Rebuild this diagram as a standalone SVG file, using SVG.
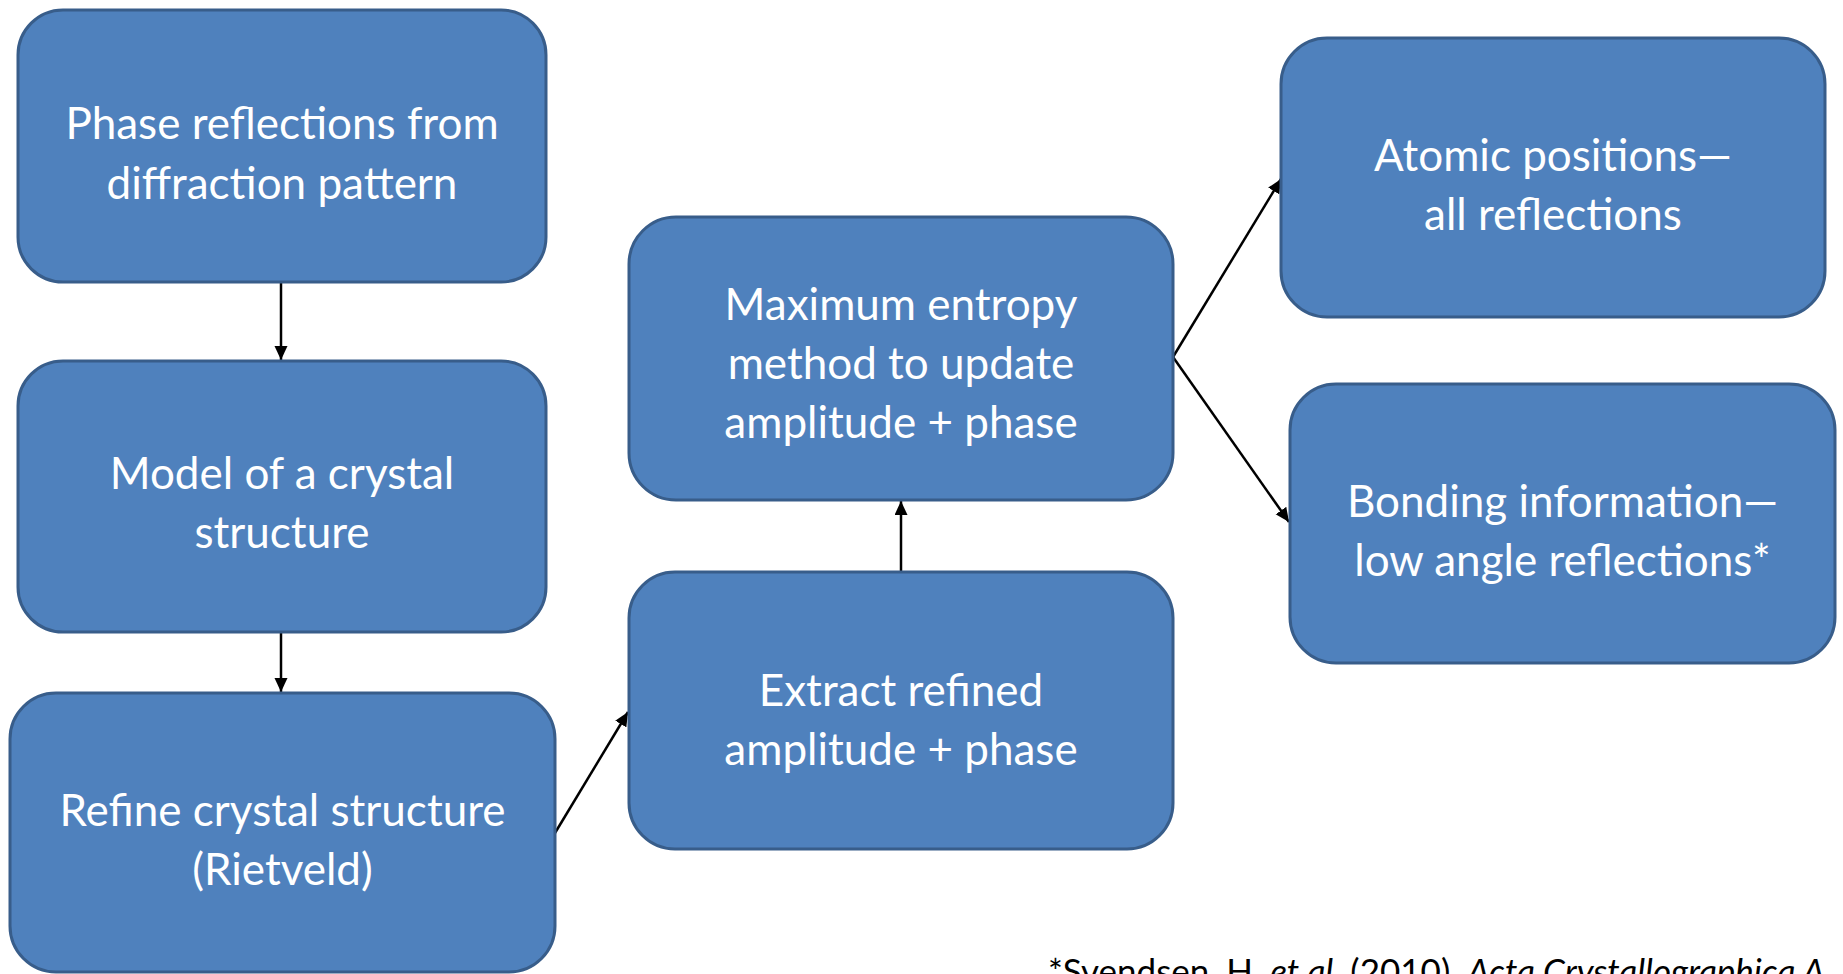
<svg xmlns="http://www.w3.org/2000/svg" width="1843" height="974" viewBox="0 0 1843 974">
<style>
.box{fill:#4F81BD;stroke:#385D8A;stroke-width:3}
.lbl{font-family:Lato,"Open Sans",sans-serif;font-size:44px;fill:#FFFFFF;text-anchor:middle}
.con{stroke:#000000;stroke-width:2.5;fill:none;marker-end:url(#ah)}
.note{font-family:Lato,"Open Sans",sans-serif;font-size:35px;fill:#000000}
</style>
<defs>
<marker id="ah" markerUnits="userSpaceOnUse" markerWidth="15" markerHeight="14" refX="14" refY="6.5" orient="auto">
<path d="M0,0 L14,6.5 L0,13 z" fill="#000000"/>
</marker>
</defs>
<rect width="1843" height="974" fill="#FFFFFF"/>
<g id="connectors">
<line class="con" x1="281" y1="283" x2="281" y2="360"/>
<line class="con" x1="281" y1="633" x2="281" y2="692"/>
<line class="con" x1="555" y1="833" x2="628" y2="712"/>
<line class="con" x1="901" y1="572" x2="901" y2="501"/>
<line class="con" x1="1173" y1="357" x2="1281" y2="179"/>
<line class="con" x1="1173" y1="357" x2="1289" y2="522"/>
</g>
<g id="n1">
<rect class="box" x="18" y="10" width="528" height="272" rx="45"/>
<text class="lbl" x="282" y="139">Phase reflections from</text>
<text class="lbl" x="282" y="199">diffraction pattern</text>
</g>
<g id="n2">
<rect class="box" x="18" y="361" width="528" height="271" rx="45"/>
<text class="lbl" x="282" y="488.5">Model of a crystal</text>
<text class="lbl" x="282" y="548">structure</text>
</g>
<g id="n3">
<rect class="box" x="10" y="693" width="545" height="279" rx="46"/>
<text class="lbl" x="282.5" y="826">Refine crystal structure</text>
<text class="lbl" x="282.5" y="885">(Rietveld)</text>
</g>
<g id="n4">
<rect class="box" x="629" y="217" width="544" height="283" rx="47"/>
<text class="lbl" x="901" y="320">Maximum entropy</text>
<text class="lbl" x="901" y="379">method to update</text>
<text class="lbl" x="901" y="438">amplitude + phase</text>
</g>
<g id="n5">
<rect class="box" x="629" y="572" width="544" height="277" rx="46"/>
<text class="lbl" x="901" y="706">Extract refined</text>
<text class="lbl" x="901" y="765">amplitude + phase</text>
</g>
<g id="n6">
<rect class="box" x="1281" y="38" width="544" height="279" rx="46"/>
<text class="lbl" x="1553" y="170.5">Atomic positions—</text>
<text class="lbl" x="1553" y="229.5">all reflections</text>
</g>
<g id="n7">
<rect class="box" x="1290" y="384" width="545" height="279" rx="46"/>
<text class="lbl" x="1562.5" y="517">Bonding information—</text>
<text class="lbl" x="1562.5" y="576">low angle reflections*</text>
</g>
<text class="note" x="1048" y="984">*Svendsen, H. <tspan font-style="italic">et al.</tspan> (2010). <tspan font-style="italic">Acta Crystallographica A</tspan></text>
</svg>
